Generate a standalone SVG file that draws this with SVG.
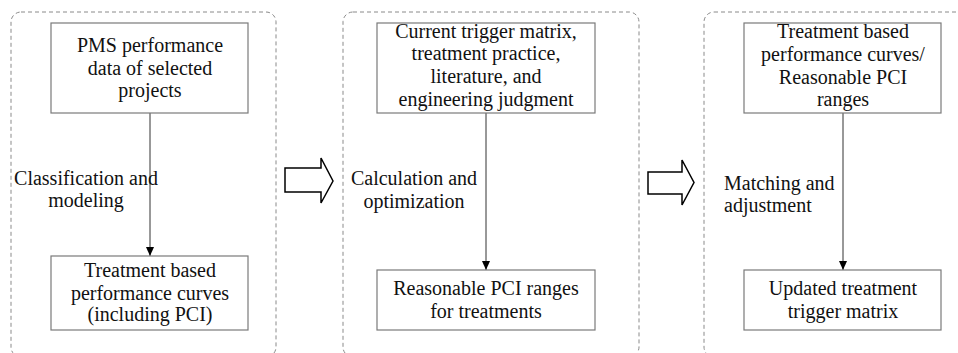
<svg xmlns="http://www.w3.org/2000/svg" width="958" height="353" viewBox="0 0 958 353">
<style>
.panel{fill:none;stroke:#8a8a8a;stroke-width:1;stroke-dasharray:4 3}
.box{fill:#fff;stroke:#7a7a7a;stroke-width:1.2}
.t{font-family:'Liberation Serif',serif;font-size:20px;fill:#111;text-anchor:middle}
.l{font-family:'Liberation Serif',serif;font-size:20px;fill:#111}
.conn{fill:none;stroke:#333;stroke-width:1;marker-end:url(#ah)}
.big{fill:#fff;stroke:#000;stroke-width:1.5;stroke-linejoin:miter}
</style>
<defs>
<marker id="ah" markerWidth="10" markerHeight="8" refX="9" refY="4" orient="auto" markerUnits="userSpaceOnUse">
<path d="M0,0 L9,4 L0,8 Z" fill="#000"/>
</marker>
</defs>
<rect width="958" height="353" fill="#fff"/>

<g id="panel1"><rect class="panel" x="11" y="12" width="265" height="345" rx="10"/></g>
<g id="panel2"><rect class="panel" x="343" y="12" width="296" height="345" rx="10"/></g>
<g id="panel3"><rect class="panel" x="704" y="12" width="280" height="345" rx="10"/></g>

<g id="connectors">
<line class="conn" x1="150" y1="113" x2="150" y2="256"/>
<line class="conn" x1="486" y1="113" x2="486" y2="270"/>
<line class="conn" x1="843" y1="113" x2="843" y2="270"/>
<path class="big" d="M285,168 H321 V158 L333,181 L321,203 V192 H285 Z"/>
<path class="big" d="M648,172 H682 V160 L694,182.5 L682,205 V194 H648 Z"/>
</g>

<g id="n1">
<rect class="box" x="51" y="23" width="197" height="90"/>
<text class="t" x="150" y="52">PMS performance</text>
<text class="t" x="150" y="74.5">data of selected</text>
<text class="t" x="150" y="97">projects</text>
</g>
<g id="n2">
<rect class="box" x="51" y="256" width="197" height="74"/>
<text class="t" x="150" y="277">Treatment based</text>
<text class="t" x="150" y="299.5">performance curves</text>
<text class="t" x="150" y="321">(including PCI)</text>
</g>
<g id="n3">
<rect class="box" x="377" y="23" width="218" height="90"/>
<text class="t" x="486" y="37.5">Current trigger matrix,</text>
<text class="t" x="486" y="60">treatment practice,</text>
<text class="t" x="486" y="83">literature, and</text>
<text class="t" x="486" y="106">engineering judgment</text>
</g>
<g id="n4">
<rect class="box" x="377" y="270" width="218" height="60"/>
<text class="t" x="486" y="295">Reasonable PCI ranges</text>
<text class="t" x="486" y="318">for treatments</text>
</g>
<g id="n5">
<rect class="box" x="744" y="23" width="197" height="90"/>
<text class="t" x="843" y="38">Treatment based</text>
<text class="t" x="843" y="61">performance curves/</text>
<text class="t" x="843" y="84">Reasonable PCI</text>
<text class="t" x="843" y="106">ranges</text>
</g>
<g id="n6">
<rect class="box" x="744" y="270" width="197" height="60"/>
<text class="t" x="843" y="295">Updated treatment</text>
<text class="t" x="843" y="318">trigger matrix</text>
</g>

<g id="labels">
<text class="t" x="86" y="185">Classification and</text>
<text class="t" x="86" y="207">modeling</text>
<text class="t" x="414" y="185">Calculation and</text>
<text class="t" x="414" y="207.5">optimization</text>
<text class="l" x="724" y="190">Matching and</text>
<text class="l" x="724" y="212">adjustment</text>
</g>
</svg>
